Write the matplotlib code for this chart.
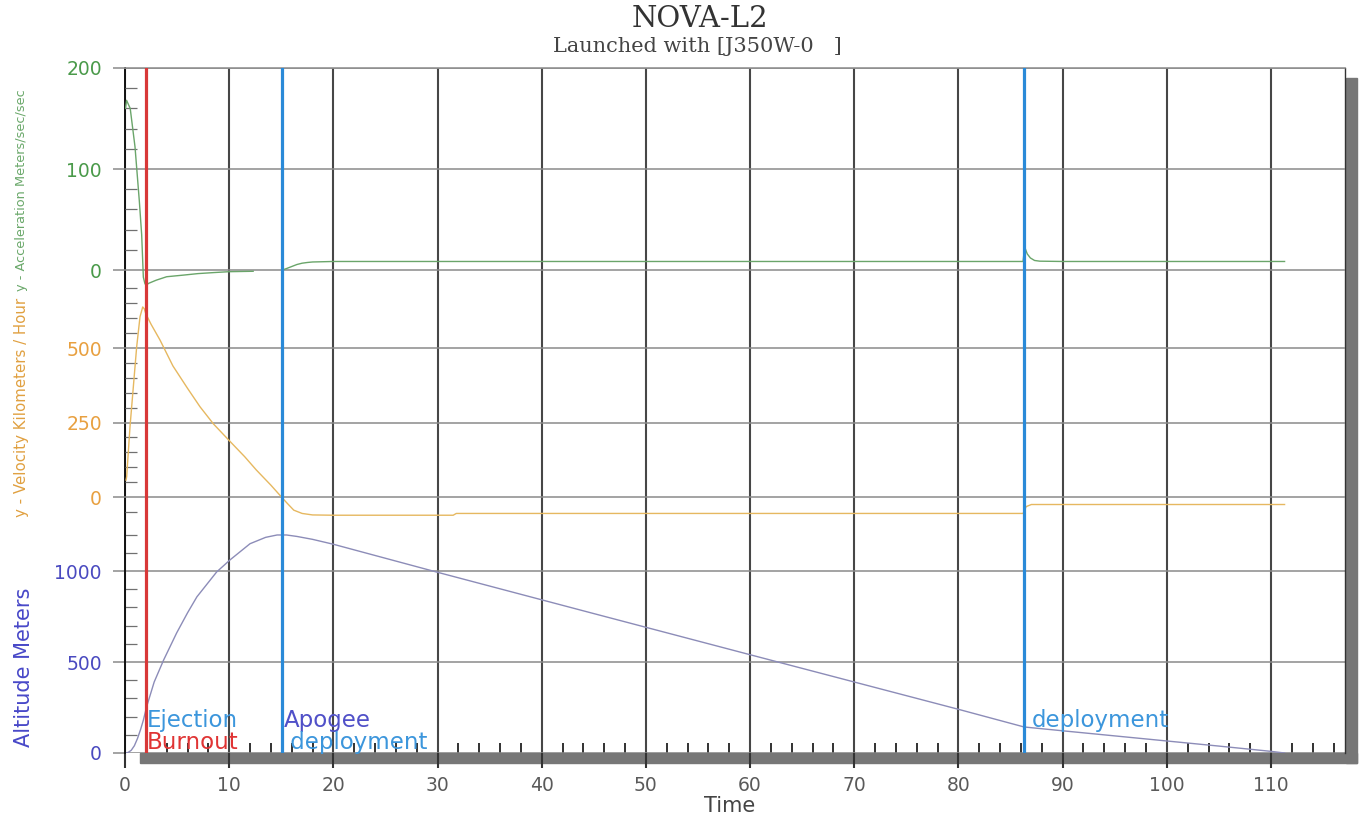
import matplotlib
matplotlib.use("Agg")
import matplotlib.pyplot as plt
from matplotlib.patches import Rectangle
import numpy as np

# wide sans face, the reference text is stretched horizontally
plt.rcParams['font.family'] = ['DejaVu Sans']

# --- data ---
alt_t = [0, 0.3, 0.6, 0.9, 1.2, 1.5, 1.76, 2.08, 2.8, 3.7, 4.96, 6.0, 6.9, 8.8, 10.1,
         12.0, 13.5, 14.6, 15.5, 16.5, 18, 20, 30, 45, 60, 70, 80, 86.3, 90, 100, 105, 110, 111.3]
alt_m = [0, 3, 15, 40, 80, 130, 180, 255, 390, 510, 660, 770, 858, 995, 1062,
         1150, 1185, 1198, 1198, 1190, 1174, 1147, 993, 766, 540, 390, 240, 143, 122, 66, 38, 9, 0]

vel_t = [0.1, 0.16, 0.48, 0.8, 1.12, 1.44, 1.7, 1.85, 2.0, 2.5, 3.36, 4.6, 6.0, 7.2, 8.5, 10.1,
         11.5, 12.6, 14.0, 15.1, 15.6, 16.2, 17, 18, 20, 31.5, 31.8, 86.2, 86.5, 87, 100, 111.3]
vel_kmh = [57, 68, 236, 370, 504, 605, 638, 632, 615, 580, 527, 440, 365, 303, 245, 186,
           135, 91, 40, -3, -22, -44, -55, -60, -61, -61, -55, -55, -32, -25, -25, -25]

acc_t = [0.05, 0.15, 0.5, 0.96, 1.37, 1.6, 1.76, 1.9, 2.0, 2.3, 3.0, 4.0, 5.6, 7.0, 8.5, 10.0, 12.3,
         np.nan,
         15.1, 15.5, 16.0, 16.5, 17.0, 17.5, 18.0, 20, 50, 86.2, 86.35, 86.6, 86.9, 87.3, 87.8, 90, 111.3]
acc_ms2 = [160, 168, 160, 122, 69, 35, -7, -13, -15, -13, -10, -6.6, -5, -3.5, -2.5, -1.6, -1.2,
           np.nan,
           0, 1.5, 3.5, 5.5, 6.8, 7.5, 8.0, 8.5, 8.5, 8.5, 23, 16, 12, 9.5, 8.8, 8.5, 8.5]

events = [2.0, 15.1, 86.3]
event_colors = ['#d83838', '#2a8ad8', '#2a8ad8']

alt_ticks = [0, 500, 1000]
vel_ticks = [0, 250, 500]
acc_ticks = [0, 100, 200]
x_ticks = list(range(0, 111, 10))

W, H = 1361, 819
fig = plt.figure(figsize=(W / 100, H / 100), dpi=100)
ax = fig.add_axes([125 / W, 1 - 753 / H, 1220 / W, 685 / H])
ax_v = ax.twinx()
ax_a = ax.twinx()

ax.set_xlim(0, 117.1)
ax.set_ylim(0, 3764)
ax_v.set_ylim(-859, 1440)
ax_a.set_ylim(-478, 200)

# horizontal grid + left ticks for each stacked scale
setups = [
    (ax, alt_ticks, [v for v in range(100, 1300, 100) if v % 500], '#4a4ac0'),
    (ax_v, vel_ticks, [v for v in range(-50, 701, 50) if v % 250], '#e8a040'),
    (ax_a, acc_ticks, [v for v in range(20, 200, 20) if v % 100], '#4a9a4a'),
]
for a, major, minor, col in setups:
    a.yaxis.tick_left()
    a.set_yticks(major)
    a.set_yticks(minor, minor=True)
    a.tick_params(axis='y', which='major', direction='out', length=8.6, width=1.1,
                  color='#8a8a8a', labelcolor=col, labelsize=13.5, pad=8)
    a.tick_params(axis='y', which='minor', direction='in', length=8.6, width=0.9, color='#707070')
    a.grid(axis='y', which='major', color='#8a8a8a', lw=1.1)
for a in (ax_v, ax_a):
    for s in a.spines.values():
        s.set_visible(False)

ax.set_xticks(x_ticks)
ax.set_xticks([v for v in range(2, 117, 2) if v % 10], minor=True)
ax.tick_params(axis='x', which='major', direction='out', length=10.8, width=1.5, color='#333333',
               labelcolor='#5a5a5a', labelsize=13.5, pad=6)
ax.tick_params(axis='x', which='minor', direction='in', length=7.2, width=1.3, color='#222222')
ax.grid(axis='x', which='major', color='#333333', lw=1.5, alpha=0.9)

ax.spines['left'].set_color('#111111')
ax.spines['left'].set_linewidth(1.4)
ax.spines['top'].set_color('#8a8a8a')
ax.spines['top'].set_linewidth(1.1)
ax.spines['right'].set_color('#333333')
ax.spines['right'].set_linewidth(1)
ax.spines['bottom'].set_visible(False)

# drop shadow along bottom and right
ax.add_patch(Rectangle((0.0123, -0.0146), 0.9975, 0.0146, transform=ax.transAxes,
                       color='#777777', clip_on=False, zorder=1))
ax.add_patch(Rectangle((1.0008, -0.0146), 0.009, 1.0, transform=ax.transAxes,
                       color='#777777', clip_on=False, zorder=1))

# curves
ax.plot(alt_t, alt_m, color='#8c8cb8', lw=1)
ax_v.plot(vel_t, vel_kmh, color='#e6b860', lw=1)
ax_a.plot(acc_t, acc_ms2, color='#6aa56a', lw=1)

# event lines
for x, c in zip(events, event_colors):
    ax_a.axvline(x, color=c, lw=2.3, zorder=3)

ax.text(2.1, 181, 'Ejection', color='#3c96dc', fontsize=16.5, va='center', ha='left')
ax.text(2.1, 55, 'Burnout', color='#e03434', fontsize=16.5, va='center', ha='left')
ax.text(15.2, 181, 'Apogee', color='#5050c8', fontsize=16.5, va='center', ha='left')
ax.text(15.2, 55, ' deployment', color='#3c96dc', fontsize=16.5, va='center', ha='left')
ax.text(87.0, 181, 'deployment', color='#3c96dc', fontsize=16.5, va='center', ha='left')

# titles and axis captions
fig.text(700 / W, 1 - 19 / H, 'NOVA-L2', ha='center', va='center',
         family='DejaVu Serif', fontsize=21, color='#333333')
fig.text(697 / W, 1 - 47 / H, 'Launched with [J350W-0   ]', ha='center', va='center',
         family='DejaVu Serif', fontsize=15, color='#444444')
fig.text(730 / W, 1 - 806 / H, 'Time', ha='center', va='center', fontsize=15, color='#444444')
fig.text(22 / W, 1 - 190 / H, 'y - Acceleration Meters/sec/sec', rotation=90, ha='center',
         va='center', fontsize=9.3, color='#6aa86a')
fig.text(22 / W, 1 - 407 / H, 'y - Velocity Kilometers / Hour', rotation=90, ha='center',
         va='center', fontsize=10.8, color='#e0a040')
fig.text(24 / W, 1 - 667 / H, 'Altitude Meters', rotation=90, ha='center',
         va='center', fontsize=15, color='#4848c8')

fig.savefig('out.png', dpi=100)
